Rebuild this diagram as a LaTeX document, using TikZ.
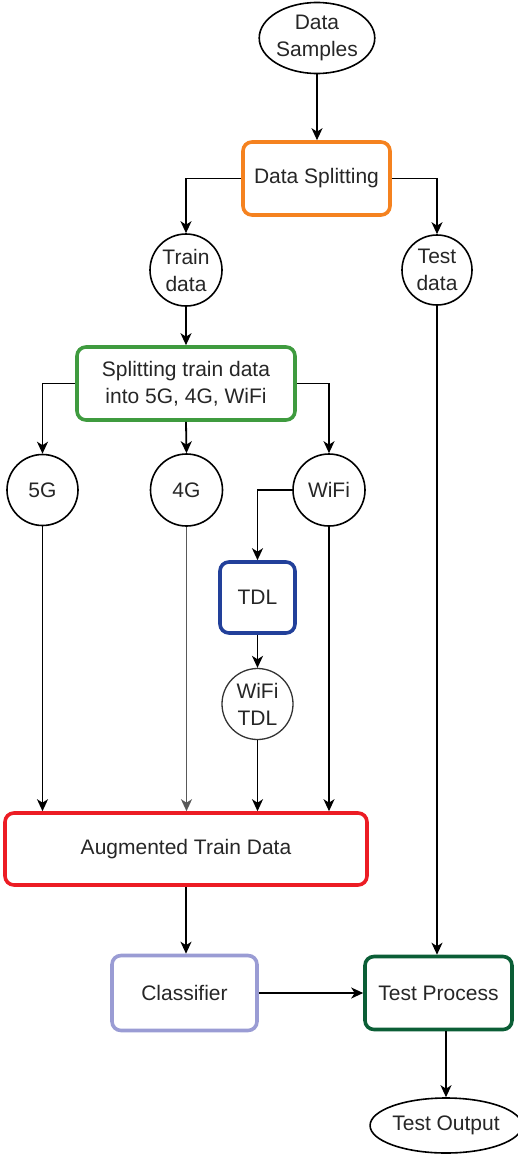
\documentclass[tikz,border=0pt]{standalone}
\usepackage{fontspec}
\setmainfont{Liberation Sans}
\usetikzlibrary{arrows.meta,shapes.geometric}
\definecolor{corange}{HTML}{F5821F}
\definecolor{cgreen}{HTML}{3F9B3F}
\definecolor{cblue}{HTML}{22409A}
\definecolor{cred}{HTML}{EC1C24}
\definecolor{clav}{HTML}{9A9CD4}
\definecolor{cdgreen}{HTML}{0B5E36}
\definecolor{ctext}{HTML}{262626}
\tikzset{
  every node/.style={font=\fontsize{21}{27}\selectfont, text=ctext, align=center, inner sep=0pt},
  rbox/.style={draw, rounded corners=9pt, line width=3.6pt},
  circ/.style={draw, ellipse, line width=1.6pt, minimum width=#1, minimum height=#1},
  oval/.style={draw, ellipse, line width=1.6pt},
  arr/.style={-{Stealth[length=12pt,width=11pt,inset=3.5pt]}, line width=1.8pt},
}
\begin{document}
\begin{tikzpicture}[x=1pt,y=-1pt]
\useasboundingbox (0,0) rectangle (517,1157);
\node[oval, minimum width=105pt, minimum height=71pt] (ds) at (317,38) {Data\\Samples};
\node[rbox, draw=corange, minimum width=147pt, minimum height=73pt] (split) at (316.5,178.5) {Data Splitting};
\node[circ=72pt] (train) at (186,270) {Train\\data};
\node[circ=70pt] (test) at (437,270) {Test\\data};
\node[rbox, draw=cgreen, minimum width=218pt, minimum height=73pt] (split2) at (186,383.5) {Splitting train data\\into 5G, 4G, WiFi};
\node[circ=71pt] (g5) at (42.5,490) {5G};
\node[circ=72pt] (g4) at (186.5,490) {4G};
\node[circ=72pt] (wifi) at (329,490) {WiFi};
\node[rbox, draw=cblue, minimum width=75pt, minimum height=71pt] (tdl) at (257.5,597.5) {TDL};
\node[circ=71pt, line width=1.3pt, draw=black!80] (wtdl) at (257.5,704) {WiFi\\TDL};
\node[rbox, draw=cred, minimum width=362pt, minimum height=72pt] (aug) at (186,849) {Augmented Train Data};
\node[rbox, draw=clav, minimum width=145pt, minimum height=75pt] (cls) at (184.5,993) {Classifier};
\node[rbox, draw=cdgreen, minimum width=147pt, minimum height=73pt] (tp) at (438.5,993) {Test Process};
\node[oval, minimum width=126pt, minimum height=55pt] (out) at (446,1125.5) {Test Output};

\draw[arr] (ds.south) -- (ds.south |- split.north);
\draw[arr] (split.west) -| (train.north);
\draw[arr] (split.east) -| (test.north);
\draw[arr] (train.south) -- (split2.north);
\draw[arr] (split2.west) -| (g5.north);
\draw[arr] (split2.south) -- (g4.north);
\draw[arr] (split2.east) -| (wifi.north);
\draw[arr] (wifi.west) -| (tdl.north);
\draw[arr] (tdl.south) -- (wtdl.north);
\draw[arr] (g5.south) -- (g5.south |- aug.north);
\draw[arr, draw=black!65, fill=black] (g4.south) -- (g4.south |- aug.north);
\draw[arr, line width=1.3pt] (wtdl.south) -- (wtdl.south |- aug.north);
\draw[arr] (wifi.south) -- (wifi.south |- aug.north);
\draw[arr] (aug.south) -- (aug.south |- cls.north);
\draw[arr] (cls.east) -- (tp.west);
\draw[arr] (test.south) -- (test.south |- tp.north);
\draw[arr] (out.north |- tp.south) -- (out.north);
\end{tikzpicture}
\end{document}
